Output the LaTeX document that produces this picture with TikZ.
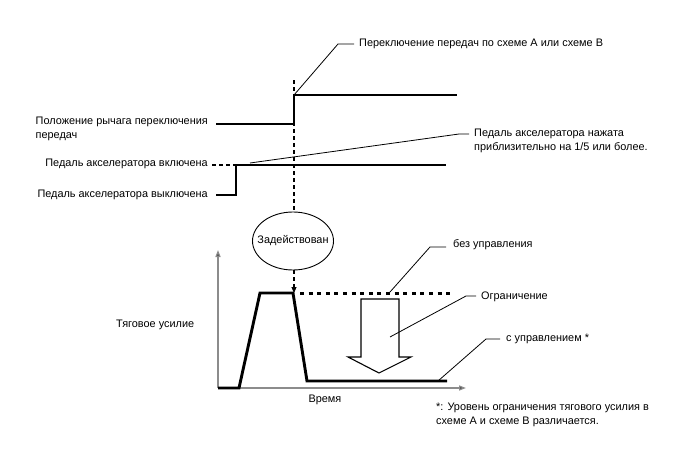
\documentclass[tikz,border=0pt]{standalone}
\usepackage{fontspec}
\setmainfont{Liberation Sans}
\usetikzlibrary{arrows.meta,shapes.geometric}
\begin{document}
\begin{tikzpicture}[x=1pt,y=-1pt,
  txt/.style={font=\fontsize{10.9}{13.5}\selectfont, inner sep=0pt},
  sig/.style={line width=2.9pt, line join=miter},
  lead/.style={line width=0.8pt},
  guide/.style={line width=1.1pt, dash pattern=on 4pt off 3pt},
  axis/.style={line width=1.3pt, draw=black!45, -{Triangle[length=7pt,width=5pt,fill=black]}}
]
\useasboundingbox (0,0) rectangle (688,463);
% gear lever
\coordinate (g0) at (216,124);
\coordinate (g1) at (294,124);
\coordinate (g2) at (294,95);
\coordinate (g3) at (457,95);
\draw[sig] (g0) -- (g1) -- (g2) -- (g3);
\node[txt, anchor=east, align=left] (glab) at (208,129) {Положение рычага переключения\\передач};
% shift leader
\coordinate (s1) at (338,44);
\coordinate (s2) at (354,44);
\draw[lead] (g2) -- (s1) -- (s2);
\node[txt, anchor=west] (stxt) at (359,44) {Переключение передач по схеме A или схеме B};
% accelerator
\coordinate (a0) at (216,195);
\coordinate (a1) at (236,195);
\coordinate (a2) at (236,165);
\coordinate (a3) at (446,165);
\coordinate (ad) at (212,165);
\draw[sig] (a0) -- (a1) -- (a2) -- (a3);
\draw[guide] (ad) -- (a2);
\node[txt, anchor=east] (aon) at (208,164) {Педаль акселератора включена};
\node[txt, anchor=east] (aoff) at (208,195) {Педаль акселератора выключена};
\coordinate (p0) at (250,163);
\coordinate (p1) at (459,134);
\coordinate (p2) at (469,134);
\draw[lead] (p0) -- (p1) -- (p2);
\node[txt, anchor=north west, align=left] (ptxt) at (474,129) {Педаль акселератора нажата\\приблизительно на 1/5 или более.};
% ellipse
\node[ellipse, draw, line width=0.9pt, minimum width=81pt, minimum height=58pt, inner sep=0pt, txt] (ell) at (293,241) {\makebox[0pt]{Задействован}};
\coordinate (v0) at (294,80);
\coordinate (v1) at (294,293);
\draw[guide] (v0) -- (v0 |- ell.north);
\draw[guide, -{Triangle[length=6pt,width=5pt]}] (v0 |- ell.south) -- (v1);
% axes
\coordinate (o) at (218,388);
\coordinate (ytop) at (218,250);
\coordinate (xend) at (466,388);
\draw[axis] (o) -- (ytop);
\draw[axis] (o) -- (xend);
\node[txt] (time) at (325,400) {Время};
\node[txt, anchor=west] (tf) at (116,325) {Тяговое усилие};
% traction curve
\coordinate (t0) at (218,388);
\coordinate (t1) at (239,388);
\coordinate (t2) at (260,293);
\coordinate (t3) at (293,293);
\coordinate (t4) at (307,381);
\coordinate (t5) at (447,381);
\draw[sig] (t0) -- (t1) -- (t2) -- (t3) -- (t4) -- (t5);
\coordinate (d0) at (300,293);
\coordinate (d1) at (452,293);
\draw[line width=3pt, dash pattern=on 4pt off 4.6pt] (d0) -- (d1);
% big arrow
\draw[line width=1.1pt, line join=miter] (361,299) -- (399,299) -- (399,357) -- (411,357) -- (379,373) -- (348,357) -- (361,357) -- cycle;
% leaders
\coordinate (b0) at (390,292);
\coordinate (b1) at (430,247);
\coordinate (b2) at (446,247);
\draw[lead] (b0) -- (b1) -- (b2);
\node[txt, anchor=west] (btxt) at (453,245) {без управления};
\coordinate (r0) at (390,337);
\coordinate (r1) at (466,296);
\coordinate (r2) at (476,296);
\draw[lead] (r0) -- (r1) -- (r2);
\node[txt, anchor=west] (rtxt) at (481,297) {Ограничение};
\coordinate (c0) at (438,381);
\coordinate (c1) at (486,339);
\coordinate (c2) at (500,339);
\draw[lead] (c0) -- (c1) -- (c2);
\node[txt, anchor=west] (ctxt) at (506,339) {с управлением *};
\node[txt, anchor=north west, align=left] (fn) at (436,403) {*: Уровень ограничения тягового усилия в\\схеме A и схеме B различается.};
\end{tikzpicture}
\end{document}
